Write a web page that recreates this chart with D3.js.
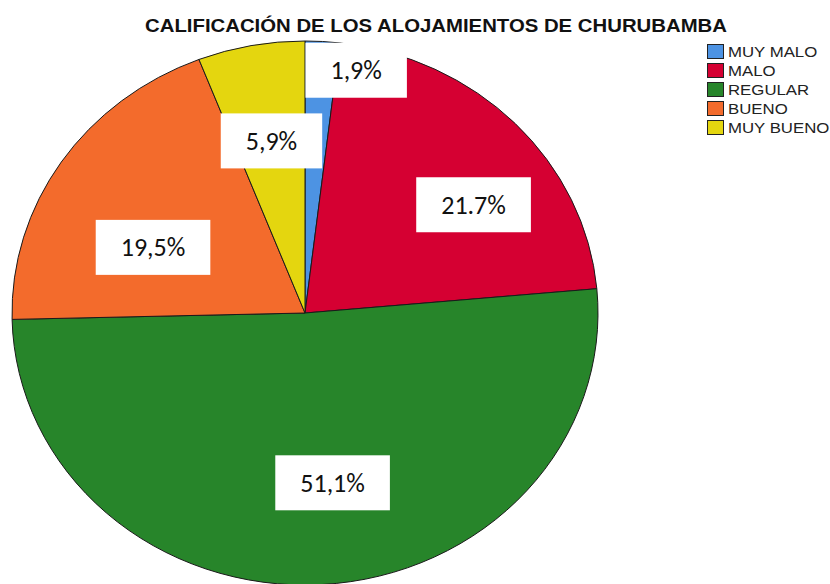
<!DOCTYPE html>
<html>
<head>
<meta charset="utf-8">
<script src="https://cdn.jsdelivr.net/npm/d3@7"></script>
<style>
  body { margin: 0; background: #fff; }
  svg { display: block; }
</style>
</head>
<body>
<svg width="830" height="584"></svg>
<script>
const categories = ["MUY MALO", "MALO", "REGULAR", "BUENO", "MUY BUENO"];
const percents = [1.9, 21.7, 51.1, 19.5, 5.9];
const labels = ["1,9%", "21.7%", "51,1%", "19,5%", "5,9%"];
const colors = ["#4d93e3", "#d50032", "#27852a", "#f36b2c", "#e4d60f"];

const width = 830;
const height = 584;

// the pie is a circle stretched sideways
const cx = 305, cy = 313;
const R = 272;
const sx = 293 / 272;

// small shifts so the boxes sit where the original put them
const labelShift = { "MUY MALO": [40, -69], "MALO": [34, 13], "REGULAR": [17, -4], "BUENO": [4, 31], "MUY BUENO": [1, -1] };

const data = categories.map((c, i) => ({ name: c, value: percents[i], label: labels[i], color: colors[i] }));

const svg = d3.select("svg");

svg.append("text")
   .attr("x", 436)
   .attr("y", 32)
   .attr("text-anchor", "middle")
   .attr("font-family", "Liberation Sans, Arial, sans-serif")
   .attr("font-weight", "bold")
   .attr("font-size", 18)
   .attr("textLength", 582)
   .attr("lengthAdjust", "spacingAndGlyphs")
   .attr("fill", "#111")
   .text("CALIFICACIÓN DE LOS ALOJAMIENTOS DE CHURUBAMBA");

const pie = d3.pie().sort(null).value(d => d.value);
const arcs = pie(data);

const arc = d3.arc().innerRadius(0).outerRadius(R);
const labelArc = d3.arc().innerRadius(R * 0.64).outerRadius(R * 0.64);

const g = svg.append("g")
             .attr("transform", `translate(${cx}, ${cy}) scale(${sx}, 1)`);

g.selectAll("path")
 .data(arcs)
 .enter()
 .append("path")
 .attr("d", arc)
 .attr("fill", d => d.data.color)
 .attr("stroke", "#1a1a1a")
 .attr("stroke-width", 1)
 .attr("vector-effect", "non-scaling-stroke");

// labels in white boxes
const lab = svg.append("g");
arcs.forEach(d => {
  const c = labelArc.centroid(d);
  const s = labelShift[d.data.name];
  const x = cx + c[0] * sx + s[0];
  const y = cy + c[1] + s[1];
  const t = lab.append("text")
               .attr("x", x)
               .attr("y", y)
               .attr("text-anchor", "middle")
               .attr("dominant-baseline", "central")
               .attr("font-family", "Carlito, 'Open Sans', sans-serif")
               .attr("font-size", 26)
               .attr("fill", "#111")
               .text(d.data.label);
  const w = t.node().getComputedTextLength() + 50;
  lab.insert("rect", "text")
     .attr("x", x - w / 2)
     .attr("y", y - 27.5)
     .attr("width", w)
     .attr("height", 55)
     .attr("fill", "#fff");
});

// legend
const legend = svg.append("g")
                  .attr("transform", "translate(707, 44)");

const rows = legend.selectAll("g")
                   .data(data)
                   .enter()
                   .append("g")
                   .attr("transform", (d, i) => `translate(0, ${i * 19})`);

rows.append("rect")
    .attr("x", 0.5)
    .attr("y", 0.5)
    .attr("width", 16)
    .attr("height", 14)
    .attr("fill", d => d.color)
    .attr("stroke", "#222")
    .attr("stroke-width", 1);

rows.append("text")
    .attr("transform", "translate(21, 13) scale(1.2, 1)")
    .attr("font-family", "Liberation Sans, Arial, sans-serif")
    .attr("font-size", 14)
    .attr("fill", "#222")
    .text(d => d.name);
</script>
</body>
</html>
